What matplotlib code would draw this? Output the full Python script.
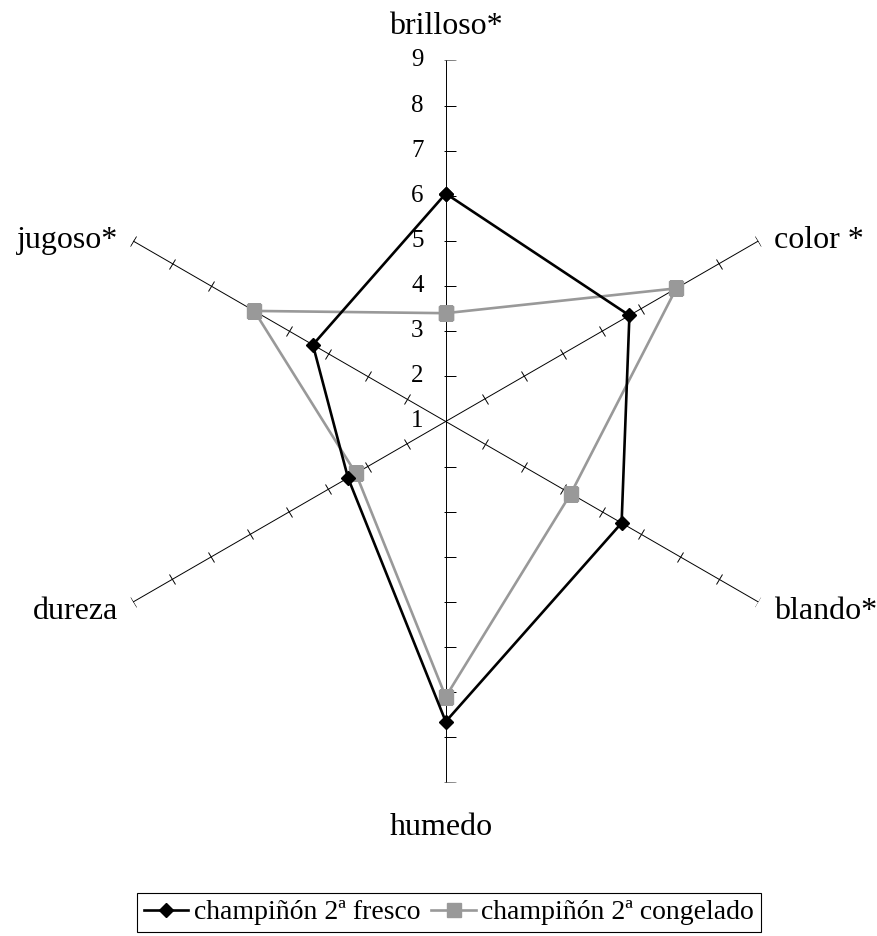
import numpy as np
import matplotlib
matplotlib.use("Agg")
import matplotlib.pyplot as plt
from matplotlib.markers import MarkerStyle
from matplotlib.transforms import Affine2D

plt.rcParams['font.family'] = ['Liberation Serif', 'DejaVu Serif']

# atributos sensoriales, en el orden de los ejes (sentido horario desde arriba)
atributos = ['brilloso*', 'color *', 'blando*', 'humedo', 'dureza', 'jugoso*']
fresco = [6.05, 5.7, 5.5, 7.65, 3.5, 4.4]
congelado = [3.4, 6.9, 4.2, 7.1, 3.3, 5.9]
escala = [1, 2, 3, 4, 5, 6, 7, 8, 9]

angulos = np.linspace(0, 2 * np.pi, len(atributos), endpoint=False)

fig = plt.figure(figsize=(8.77, 9.36), dpi=100)
ax = fig.add_axes([0.0966, 0.164, 0.8233, 0.7714], projection='polar')
ax.set_theta_zero_location('N')
ax.set_theta_direction(-1)
ax.set_ylim(escala[0], escala[-1])
ax.grid(False)
ax.set_xticks([])
ax.set_yticks([])
ax.spines['polar'].set_visible(False)

# ejes radiales con sus marcas
for i, ang in enumerate(angulos):
    ax.plot([ang, ang], [escala[0], escala[-1]], color='black', lw=0.7, zorder=1)
    grados = np.degrees(ang)
    if i in (0, 3):
        # el eje vertical lleva las marcas hacia la derecha
        marca = MarkerStyle('_', transform=Affine2D().translate(0.35, 0))
    else:
        marca = MarkerStyle('_', transform=Affine2D().rotate_deg(-grados))
    ax.plot([ang] * (len(escala) - 1), escala[1:], linestyle='none',
            marker=marca, markersize=8.5, markeredgewidth=0.7,
            color='black', zorder=1)

# etiquetas de la escala sobre el eje vertical
for v in escala:
    ax.annotate(str(v), xy=(0, v), xytext=(-16, 0), textcoords='offset points',
                ha='right', va='center', fontsize=18)

# nombres de los atributos
posiciones = [
    ((0, 14), 'center', 'bottom'),
    ((11, 0), 'left', 'center'),
    ((11, -7), 'left', 'center'),
    ((-3, -22), 'center', 'top'),
    ((-11, -7), 'right', 'center'),
    ((-11, 0), 'right', 'center'),
]
for ang, nombre, (off, ha, va) in zip(angulos, atributos, posiciones):
    ax.annotate(nombre, xy=(ang, escala[-1]), xytext=off,
                textcoords='offset points', ha=ha, va=va, fontsize=23)

ang_c = np.append(angulos, angulos[0])
ax.plot(ang_c, fresco + fresco[:1], color='black', lw=1.9, marker='D',
        markersize=7.5, label='champiñón 2ª fresco', zorder=3)
ax.plot(ang_c, congelado + congelado[:1], color='#999999', lw=1.9, marker='s',
        markersize=10, label='champiñón 2ª congelado', zorder=2)

ley = fig.legend(loc='center', bbox_to_anchor=(449 / 877, 23.5 / 936), ncol=2,
                 fontsize=20, frameon=True, fancybox=False, edgecolor='black',
                 framealpha=1, handlelength=1.6, handletextpad=0.2,
                 columnspacing=0.4, borderpad=0.25, borderaxespad=0)
ley.get_frame().set_linewidth(0.8)

fig.savefig('out.png', dpi=100)
